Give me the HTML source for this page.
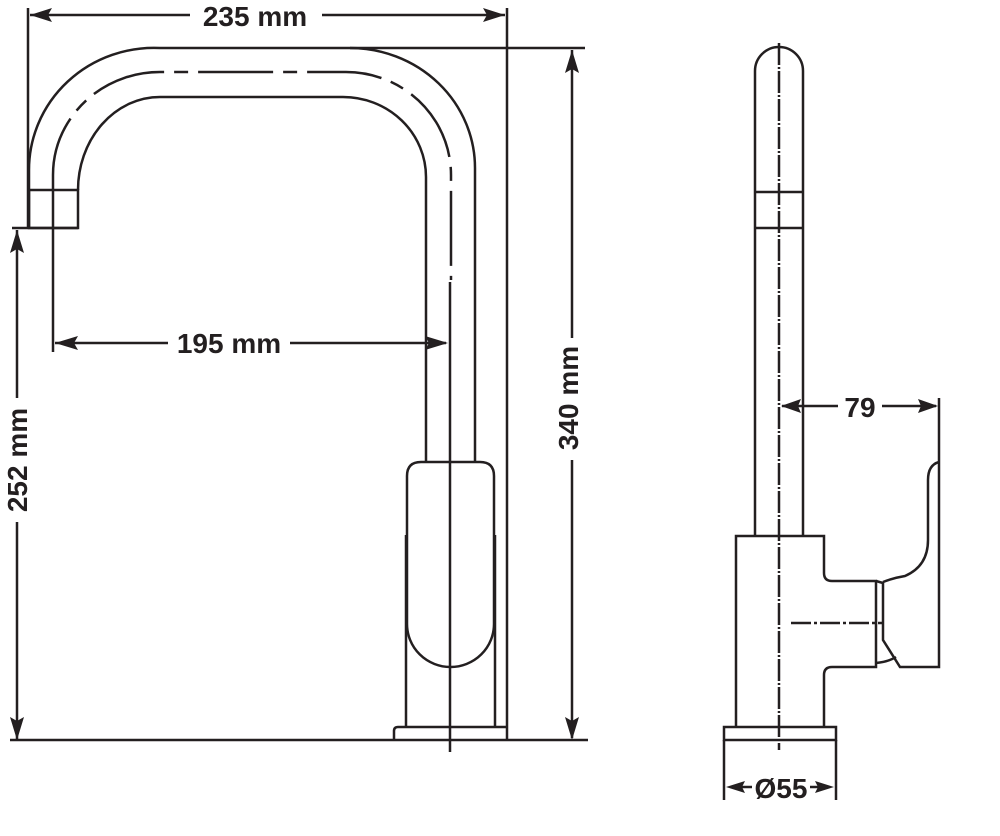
<!DOCTYPE html>
<html><head><meta charset="utf-8"><style>
html,body{margin:0;padding:0;background:#fff;}
svg{display:block;}
text{font-family:"Liberation Sans",Arial,sans-serif;font-weight:bold;fill:#231f20;}
</style></head><body>
<svg width="1000" height="836" viewBox="0 0 1000 836" xmlns="http://www.w3.org/2000/svg">
<g fill="none" stroke="#231f20" stroke-width="2.5" stroke-linecap="butt">
<line x1="28" y1="8" x2="28" y2="228"/>
<line x1="507" y1="8" x2="507" y2="740"/>
<line x1="30" y1="15" x2="190" y2="15"/>
<line x1="322" y1="15" x2="505" y2="15"/>
<path d="M29,228 V170 A125,122 0 0 1 160,48 H350 A125,120 0 0 1 475,168 V462"/>
<line x1="350" y1="48" x2="585" y2="48"/>
<path d="M53,190 V175 A107,103 0 0 1 160,72 H346 A105,103 0 0 1 451,175 V280" stroke-dasharray="75,10,14,10"/>
<line x1="450" y1="282" x2="450" y2="752"/>
<line x1="53" y1="190" x2="53" y2="352"/>
<path d="M78,190 A82,93 0 0 1 160,97 H343 A83,80 0 0 1 426,177 V462"/>
<rect x="29" y="190" width="49" height="38"/>
<line x1="12" y1="228" x2="78" y2="228"/>
<line x1="55" y1="343" x2="168" y2="343"/>
<line x1="290" y1="343" x2="446" y2="343"/>
<line x1="17" y1="230" x2="17" y2="398"/>
<line x1="17" y1="522" x2="17" y2="740"/>
<line x1="572" y1="50" x2="572" y2="338"/>
<line x1="572" y1="460" x2="572" y2="738"/>
<path d="M407,476 Q407,462 421,462 H480 Q494,462 494,476 V624 A43.5,43 0 0 1 407,624 Z"/>
<line x1="406" y1="535" x2="406" y2="727"/>
<line x1="495" y1="535" x2="495" y2="727"/>
<path d="M394,740 V731 Q394,727 398,727 H507"/>
<line x1="10" y1="740" x2="588" y2="740"/>

<path d="M755,536 V71 A24,24 0 0 1 803,71 V536"/>
<line x1="755" y1="192" x2="803" y2="192"/>
<line x1="755" y1="228" x2="803" y2="228"/>
<line x1="779" y1="43" x2="779" y2="750" stroke-dasharray="22,2,2,2"/>
<path d="M736,727 V536 H824 V573 Q824,581 832,581 H876 V667 H832 Q824,667 824,675 V727"/>
<rect x="724" y="727" width="112" height="13"/>
<line x1="724" y1="740" x2="724" y2="800"/>
<line x1="836" y1="740" x2="836" y2="800"/>
<line x1="742" y1="787" x2="752" y2="787"/>
<line x1="810" y1="787" x2="818" y2="787"/>
<path d="M939,398 V667 H900 L883,640 V583 L876,581"/>
<path d="M883,582 Q893,578 905,576 Q928,566 928,540 V480 Q928,465 939,462"/>
<path d="M876,663 Q888,662 896,657"/>
<line x1="791" y1="623" x2="882" y2="623" stroke-dasharray="20,3,3,3"/>
<line x1="782" y1="406" x2="838" y2="406"/>
<line x1="882" y1="406" x2="936" y2="406"/>
</g>
<g fill="#231f20">
<polygon points="30,15 52,8 48,15 52,22"/>
<polygon points="505,15 483,8 487,15 483,22"/>
<polygon points="55,343 78,336 74,343 78,350"/>
<polygon points="448,343 425,336 429,343 425,350"/>
<polygon points="17,230 10,253 17,249 24,253"/>
<polygon points="17,740 10,717 17,721 24,717"/>
<polygon points="572,50 565,73 572,69 579,73"/>
<polygon points="572,740 565,717 572,721 579,717"/>
<polygon points="781,406 801,399 798,406 801,413"/>
<polygon points="938,406 918,399 921,406 918,413"/>
<polygon points="726,787 745,781 742,787 745,793"/>
<polygon points="834,787 815,781 818,787 815,793"/>
</g>
<text x="255" y="26" font-size="28" text-anchor="middle">235 mm</text>
<text x="229" y="353" font-size="28" text-anchor="middle">195 mm</text>
<text x="0" y="0" font-size="28" text-anchor="middle" transform="translate(27,460) rotate(-90)">252 mm</text>
<text x="0" y="0" font-size="28" text-anchor="middle" transform="translate(578,398) rotate(-90)">340 mm</text>
<text x="860" y="417" font-size="28" text-anchor="middle">79</text>
<text x="781" y="798" font-size="28" text-anchor="middle">Ø55</text>
</svg>
</body></html>
